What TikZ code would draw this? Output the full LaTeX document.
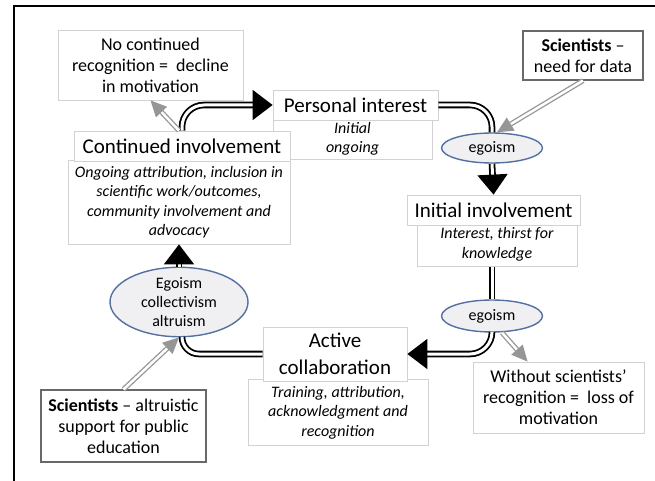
\documentclass[tikz,border=0pt]{standalone}
\usepackage{fontspec}
\setmainfont{Carlito}
\usepackage{tikz}
\usetikzlibrary{arrows.meta,shapes.geometric}
\definecolor{boxgray}{RGB}{210,210,210}
\definecolor{scigray}{RGB}{105,105,105}
\definecolor{flowgray}{RGB}{150,150,150}
\definecolor{egoblue}{RGB}{84,112,160}
\definecolor{egofill}{RGB}{240,240,242}
\tikzstyle{titlebox} = [draw=boxgray, fill=white, line width=0.8pt, inner sep=0pt, align=center, font=\fontsize{21}{27}\selectfont]
\tikzstyle{subbox} = [draw=boxgray, fill=white, line width=0.8pt, inner sep=0pt, align=center, font=\fontsize{16}{19.5}\selectfont\itshape]
\tikzstyle{notebox} = [draw=boxgray, fill=white, line width=0.8pt, inner sep=0pt, align=center, font=\fontsize{18}{21}\selectfont]
\tikzstyle{scibox} = [notebox, draw=scigray, line width=1.2pt]
\tikzstyle{motive} = [ellipse, draw=egoblue, fill=egofill, line width=1.4pt, inner sep=0pt, align=center, font=\fontsize{16}{19}\selectfont]
\tikzstyle{loopflow} = [draw=black, line width=1.8pt, double=white, double distance=3pt, rounded corners=22pt]
\tikzstyle{loophead} = [loopflow, -{Triangle[length=20pt,width=30pt]}]
\tikzstyle{sideflow} = [draw=flowgray, line width=1.3pt, double=white, double distance=2.5pt, -{Triangle[length=16pt,width=15pt,fill=flowgray]}]

\begin{document}
\begin{tikzpicture}[x=1pt, y=-1pt]
\useasboundingbox (0,0) rectangle (655,481);
% frame
\draw[line width=2pt] (13.5,481) -- (13.5,6) -- (655,6);

% stages
\node[subbox, minimum width=159pt, minimum height=40pt] (perssub) at (352.5,139) {Initial\\ongoing};
\node[titlebox, minimum width=165pt, minimum height=30pt] (pers) at (355.5,105) {Personal interest};
\node[subbox, minimum width=222pt, minimum height=84pt] (contsub) at (179,202) {Ongoing attribution, inclusion in\\scientific work/outcomes,\\community involvement and\\advocacy};
\node[titlebox, minimum width=216pt, minimum height=30pt] (cont) at (182,146) {Continued involvement};
\node[subbox, minimum width=160pt, minimum height=44pt] (initsub) at (497,244.5) {Interest, thirst for\\knowledge};
\node[titlebox, minimum width=173pt, minimum height=30pt] (init) at (493.5,210) {Initial involvement};
\node[subbox, minimum width=180pt, minimum height=66pt] (actsub) at (338,412.5) {Training, attribution,\\acknowledgment and\\recognition};
\node[titlebox, minimum width=144pt, minimum height=54pt] (act) at (335,354) {Active\\collaboration};

% motives
\node[motive, minimum width=101pt, minimum height=30pt] (ego1) at (492,148) {egoism};
\node[motive, minimum width=101pt, minimum height=32pt] (ego2) at (492,316) {egoism};
\node[motive, minimum width=138pt, minimum height=69pt] (mix) at (179,302) {Egoism\\collectivism\\altruism};

% side notes
\node[notebox, minimum width=185pt, minimum height=70pt] (nocont) at (150.5,65) {No continued\\recognition =~ decline\\in motivation};
\node[notebox, minimum width=171pt, minimum height=71pt] (without) at (558.5,397.5) {Without scientists’\\recognition =~ loss of\\motivation};
\node[scibox, minimum width=120pt, minimum height=49pt] (scidata) at (583,55.5) {\textbf{Scientists} –\\need for data};
\node[scibox, minimum width=165pt, minimum height=72pt] (scialt) at (123.5,426) {\textbf{Scientists} – altruistic\\support for public\\education};

% cycle
\draw[loophead] (cont.north) |- (pers.west);
\draw[loopflow] (pers.east) -| (ego1.north);
\draw[loophead] (ego1.south) -- (init.north);
\draw[loopflow] (ego2.north |- initsub.south) -- (ego2.north);
\draw[loophead] (ego2.south) |- (act.east);
\draw[loopflow, rounded corners=17pt] (act.west) -| ([xshift=3pt]mix.south);
\draw[loophead] (mix.north) -- (contsub.south);

% influences
\draw[sideflow] ([xshift=-3pt]cont.north) -- (nocont.south);
\draw[sideflow] (scidata.south) -- ([xshift=5pt]ego1.north);
\draw[sideflow] ([xshift=10pt]ego2.south) -- ([xshift=55pt]without.north west);
\draw[sideflow] (scialt.north) -- (mix.south);
\end{tikzpicture}
\end{document}
